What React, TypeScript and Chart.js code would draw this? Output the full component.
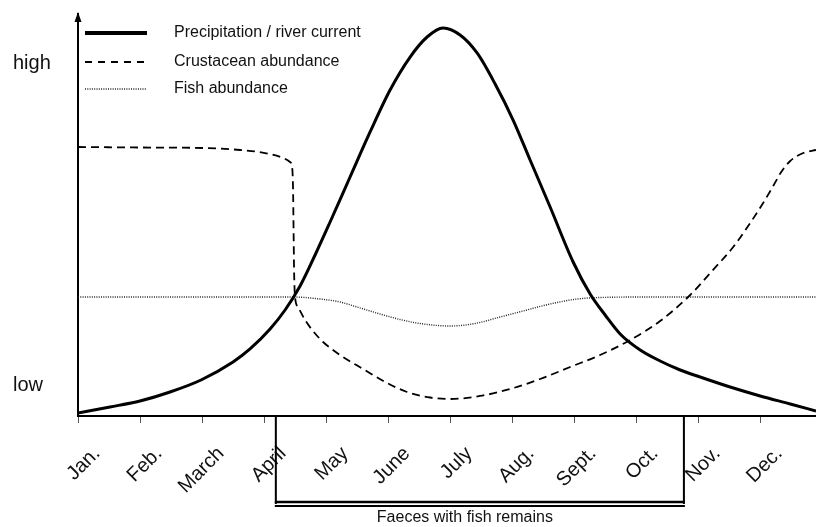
import React, { useEffect, useRef } from "react";
import { Chart, registerables } from "chart.js";

Chart.register(...registerables);

// Month tick labels (x value = month index, Jan. = 0)
const monthLabels = ["Jan.", "Feb.", "March", "April", "May", "June", "July", "Aug.", "Sept.", "Oct.", "Nov.", "Dec."];
const xMax = 11.9;

// Y axis qualitative labels
const yTickValues = [7.5, 87.6];
const yTickLabels = ["low", "high"];

// Precipitation / river current
const precipX = [0, 0.516, 1.0, 1.484, 1.984, 2.5, 2.774, 3.097, 3.339, 3.581, 3.823, 4.065, 4.387, 4.71, 5.032, 5.355, 5.629, 5.887, 6.161, 6.435, 6.726, 7.016, 7.29, 7.613, 7.984, 8.258, 8.5, 8.742, 9.065, 9.387, 9.71, 10.032, 10.516, 11.0, 11.484, 11.9];
const precipY = [0.75, 2.24, 3.73, 5.97, 8.96, 13.43, 16.67, 21.64, 26.37, 32.34, 40.05, 48.26, 59.45, 70.65, 81.09, 89.3, 94.28, 96.52, 94.78, 90.3, 82.59, 73.63, 63.68, 51.99, 38.31, 30.35, 25.12, 20.4, 16.42, 13.68, 11.44, 9.7, 7.21, 4.98, 2.99, 1.24];

// Crustacean abundance
const crustX = [0, 1.0, 2.016, 2.613, 3.016, 3.306, 3.419, 3.452, 3.468, 3.476, 3.484, 3.5, 3.548, 3.661, 3.79, 3.952, 4.226, 4.597, 4.952, 5.306, 5.677, 6.0, 6.484, 6.968, 7.452, 7.935, 8.419, 8.903, 9.387, 9.871, 10.194, 10.565, 10.839, 11.048, 11.21, 11.339, 11.484, 11.694, 11.9];
const crustY = [66.92, 66.79, 66.67, 66.17, 65.42, 64.18, 63.18, 61.94, 56.22, 46.27, 36.32, 29.6, 27.11, 23.88, 21.14, 18.41, 15.17, 11.69, 8.46, 5.97, 4.6, 4.23, 4.98, 6.72, 9.2, 12.19, 15.17, 18.91, 23.63, 30.1, 35.57, 42.04, 48.01, 52.99, 57.21, 60.7, 63.43, 65.42, 66.17];

// Fish abundance
const fishX = [0, 1.968, 3.468, 3.903, 4.226, 4.5, 4.871, 5.194, 5.516, 6.0, 6.403, 6.806, 7.177, 7.613, 8.048, 8.419, 9.226, 11.9];
const fishY = [29.6, 29.6, 29.6, 29.1, 28.36, 27.11, 25.37, 24.0, 23.01, 22.39, 23.01, 24.63, 26.12, 27.86, 29.1, 29.48, 29.6, 29.6];

// Period of faeces with fish remains (x values in months)
const faecesStart = 3.19;
const faecesEnd = 9.77;
const faecesLabel = "Faeces with fish remains";

const FONT = 'Arial, "Liberation Sans", sans-serif';

const toPoints = (xs: number[], ys: number[]) => xs.map((x, i) => ({ x, y: ys[i] }));

export default function App() {
  const ref = useRef<HTMLCanvasElement>(null);

  useEffect(() => {
    if (!ref.current) return;

    const overlay = {
      id: "overlay",
      afterDraw(chart: any) {
        const { ctx, chartArea, scales } = chart;
        const xs = scales.x;
        ctx.save();

        // arrow head on y axis
        const ax = chartArea.left;
        ctx.fillStyle = "#000";
        ctx.beginPath();
        ctx.moveTo(ax, chartArea.top - 2);
        ctx.lineTo(ax - 3.5, chartArea.top + 8);
        ctx.lineTo(ax + 3.5, chartArea.top + 8);
        ctx.closePath();
        ctx.fill();

        // legend
        const legendYs = [chartArea.top + 19, chartArea.top + 48, chartArea.top + 75];
        const legendStyles = [
          { w: 4, dash: [] as number[], color: "#000" },
          { w: 2, dash: [7, 6], color: "#000" },
          { w: 1.3, dash: [1, 1.3], color: "#222" },
        ];
        chart.data.datasets.forEach((ds: any, i: number) => {
          const y = legendYs[i];
          const st = legendStyles[i];
          ctx.beginPath();
          ctx.setLineDash(st.dash);
          ctx.lineWidth = st.w;
          ctx.strokeStyle = st.color;
          ctx.moveTo(chartArea.left + 7, y);
          ctx.lineTo(chartArea.left + 69, y);
          ctx.stroke();
          ctx.setLineDash([]);
          ctx.fillStyle = "#111";
          ctx.font = `16px ${FONT}`;
          ctx.textAlign = "left";
          ctx.textBaseline = "middle";
          ctx.fillText(ds.label, chartArea.left + 96, y);
        });

        // faeces bracket
        const x0 = xs.getPixelForValue(faecesStart);
        const x1 = xs.getPixelForValue(faecesEnd);
        const yb = chartArea.bottom;
        ctx.strokeStyle = "#000";
        ctx.lineWidth = 2;
        ctx.beginPath();
        ctx.moveTo(x0, yb);
        ctx.lineTo(x0, yb + 88);
        ctx.moveTo(x1, yb);
        ctx.lineTo(x1, yb + 88);
        ctx.stroke();
        ctx.lineWidth = 2.5;
        ctx.beginPath();
        ctx.moveTo(x0 - 1, yb + 86);
        ctx.lineTo(x1 + 1, yb + 86);
        ctx.stroke();
        ctx.lineWidth = 2;
        ctx.beginPath();
        ctx.moveTo(x0 - 1, yb + 90);
        ctx.lineTo(x1 + 1, yb + 90);
        ctx.stroke();
        ctx.fillStyle = "#111";
        ctx.font = `16px ${FONT}`;
        ctx.textAlign = "center";
        ctx.textBaseline = "middle";
        ctx.fillText(faecesLabel, (x0 + x1) / 2 - 15, yb + 102);

        ctx.restore();
      },
    };

    const chart = new Chart(ref.current, {
      type: "line",
      data: {
        datasets: [
          {
            label: "Precipitation / river current",
            data: toPoints(precipX, precipY),
            borderColor: "#000",
            borderWidth: 3,
            pointRadius: 0,
            cubicInterpolationMode: "monotone",
            fill: false,
          },
          {
            label: "Crustacean abundance",
            data: toPoints(crustX, crustY),
            borderColor: "#000",
            borderWidth: 1.8,
            borderDash: [8, 5],
            pointRadius: 0,
            cubicInterpolationMode: "monotone",
            fill: false,
          },
          {
            label: "Fish abundance",
            data: toPoints(fishX, fishY),
            borderColor: "#222",
            borderWidth: 1.4,
            borderDash: [1, 1.3],
            pointRadius: 0,
            cubicInterpolationMode: "monotone",
            fill: false,
          },
        ],
      },
      options: {
        responsive: false,
        animation: false,
        layout: { padding: { left: 13, top: 14, right: 0, bottom: 0 } },
        plugins: { legend: { display: false }, tooltip: { enabled: false } },
        scales: {
          x: {
            type: "linear",
            min: 0,
            max: xMax,
            afterBuildTicks: (scale: any) => {
              scale.ticks = monthLabels.map((_, i) => ({ value: i }));
            },
            afterFit: (scale: any) => {
              scale.height = 111;
            },
            grid: { display: true, drawOnChartArea: false, drawTicks: true, tickLength: 7, color: "#555", lineWidth: 1 },
            border: { display: true, color: "#000", width: 2 },
            ticks: {
              autoSkip: false,
              minRotation: 45,
              maxRotation: 45,
              padding: 19,
              labelOffset: 19,
              color: "#111",
              font: { family: FONT, size: 20 },
              callback: (v: any) => monthLabels[Math.round(Number(v))] ?? "",
            },
          },
          y: {
            type: "linear",
            min: 0,
            max: 100,
            afterBuildTicks: (scale: any) => {
              scale.ticks = yTickValues.map((v) => ({ value: v }));
            },
            afterFit: (scale: any) => {
              scale.width = 65;
            },
            grid: { display: false },
            border: { display: true, color: "#000", width: 2 },
            ticks: {
              crossAlign: "far",
              padding: 0,
              color: "#111",
              font: { family: FONT, size: 20 },
              callback: (v: any) => {
                const i = yTickValues.indexOf(Number(v));
                return i >= 0 ? yTickLabels[i] : "";
              },
            },
          },
        },
      },
      plugins: [overlay],
    } as any);

    return () => chart.destroy();
  }, []);

  return (
    <canvas
      ref={ref}
      width={816}
      height={527}
      style={{ position: "absolute", left: 0, top: 0, display: "block" }}
    />
  );
}
